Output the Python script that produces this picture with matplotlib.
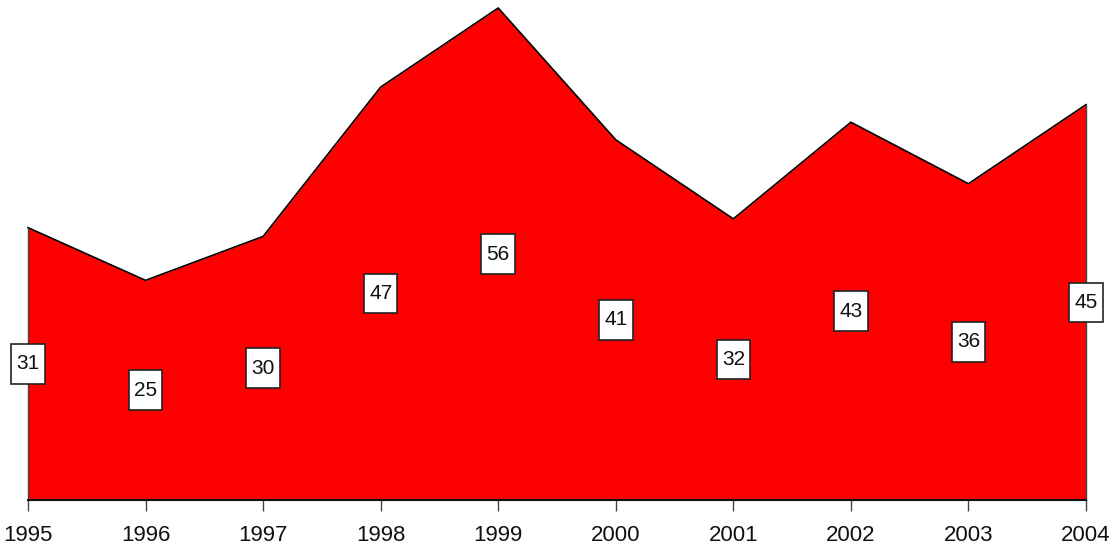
import matplotlib
matplotlib.use("Agg")
import matplotlib.pyplot as plt
from matplotlib.path import Path

years = ["1995", "1996", "1997", "1998", "1999", "2000", "2001", "2002", "2003", "2004"]
values = [31, 25, 30, 47, 56, 41, 32, 43, 36, 45]

plt.rcParams['font.family'] = ['Liberation Sans', 'DejaVu Sans']


def label_box(x0, y0, width, height, mutation_size):
    cx = x0 + width / 2
    cy = y0 + height / 2
    w = width + 0.5 * mutation_size
    h = 1.9 * mutation_size
    l, r, b, t = cx - w / 2, cx + w / 2, cy - h / 2, cy + h / 2
    return Path([(l, b), (r, b), (r, t), (l, t), (l, b)],
                [Path.MOVETO, Path.LINETO, Path.LINETO, Path.LINETO, Path.CLOSEPOLY])


fig = plt.figure(figsize=(11.17, 5.46), dpi=100)
ax = fig.add_axes([28 / 1117, 46 / 546, (1086 - 28) / 1117, (500 - 8) / 546])

x = list(range(len(years)))
ax.fill_between(x, 0, values, color='#ff0000', linewidth=0, zorder=1)
ax.plot(x, values, color='black', linewidth=1.2, clip_on=False, zorder=2)
ax.plot([x[0], x[0]], [0, values[0]], color='#444444', linewidth=1, clip_on=False, zorder=2)
ax.plot([x[-1], x[-1]], [0, values[-1]], color='#444444', linewidth=1, clip_on=False, zorder=2)

for xi, v in zip(x, values):
    ax.text(xi, v / 2, str(v), ha='center', va='center', fontsize=15, color='#111111',
            bbox=dict(boxstyle=label_box, facecolor='white', edgecolor='#222222', linewidth=1.2),
            zorder=5, clip_on=False)

ax.set_xlim(0, len(years) - 1)
ax.set_ylim(0, 56)
ax.set_xticks(x)
ax.set_xticklabels(years, fontsize=16, color='#111111')
ax.tick_params(axis='x', length=8, width=1, color='#444444', pad=10)
ax.set_yticks([])
for s in ['top', 'right', 'left']:
    ax.spines[s].set_visible(False)
ax.spines['bottom'].set_linewidth(1.5)
ax.spines['bottom'].set_color('#111111')
ax.patch.set_alpha(0)

fig.savefig('out.png', dpi=100)
